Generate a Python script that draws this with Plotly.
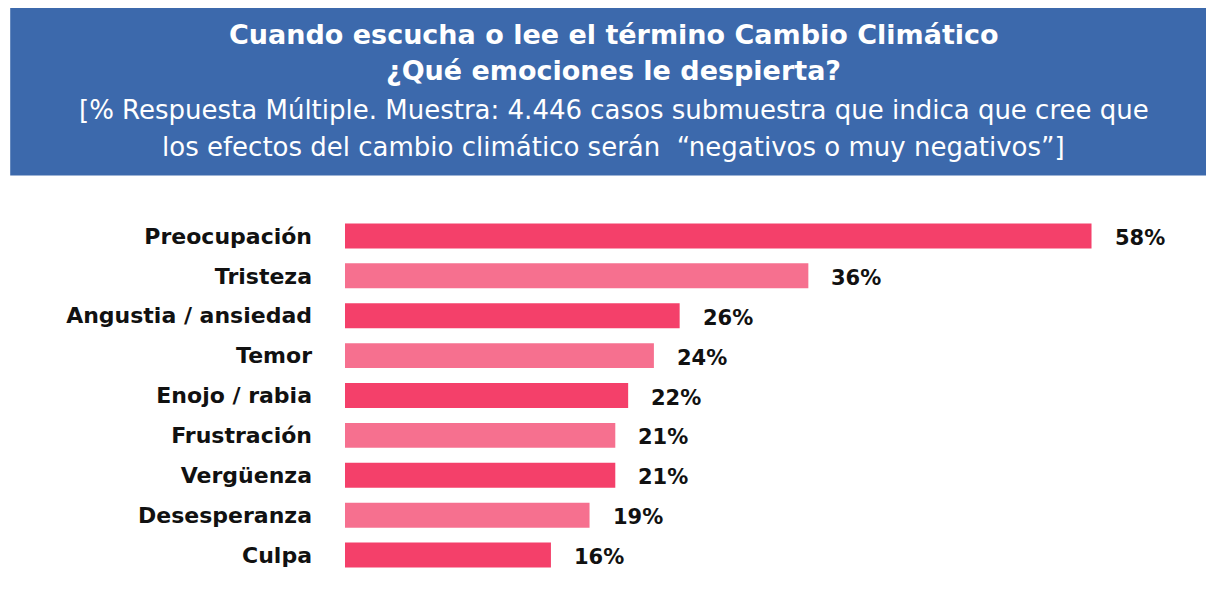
import plotly.graph_objects as go

categories = ["Preocupación", "Tristeza", "Angustia / ansiedad", "Temor", "Enojo / rabia",
              "Frustración", "Vergüenza", "Desesperanza", "Culpa"]
values = [58, 36, 26, 24, 22, 21, 21, 19, 16]
value_labels = ["58%", "36%", "26%", "24%", "22%", "21%", "21%", "19%", "16%"]
title_lines = ["Cuando escucha o lee el término Cambio Climático",
               "¿Qué emociones le despierta?"]
subtitle_lines = ["[% Respuesta Múltiple. Muestra: 4.446 casos submuestra que indica que cree que",
                  "los efectos del cambio climático serán  “negativos o muy negativos”]"]

DARK = "#F4406A"
LIGHT = "#F6708F"
BLUE = "#3C69AC"
FONT = "DejaVu Sans"

OFF = 8  # page body margin
W, H = 1214 - OFF, 604 - OFF
L, T = 345 - OFF, 215.5 - OFF
R = W - (1143.5 - OFF)
B = H - (575.5 - OFF)
PW, PH = W - L - R, H - T - B

def px(x):
    return (x - OFF - L) / PW

def py(y):
    return 1 - (y - OFF - T) / PH

colors = [DARK if i % 2 == 0 else LIGHT for i in range(len(categories))]

fig = go.Figure(go.Bar(
    x=values, y=categories, orientation="h",
    marker=dict(color=colors, line=dict(width=0)),
    width=0.625, hoverinfo="skip"))

annotations = []
for c, v, t in zip(categories, values, value_labels):
    annotations.append(dict(x=v, y=c, xref="x", yref="y", text=t, showarrow=False,
                            xanchor="left", yanchor="middle", xshift=21, yshift=-2,
                            font=dict(family=FONT, size=21, color="#111111", weight="bold")))

title_y = [33.5, 70]
for line, yy in zip(title_lines, title_y):
    annotations.append(dict(x=px(614), y=py(yy), xref="paper", yref="paper", text="<b>" + line + "</b>",
                            showarrow=False, xanchor="center", yanchor="middle",
                            font=dict(family=FONT, size=27, color="white")))
sub_y = [109.5, 146.5]
for line, yy in zip(subtitle_lines, sub_y):
    annotations.append(dict(x=px(614), y=py(yy), xref="paper", yref="paper", text=line,
                            showarrow=False, xanchor="center", yanchor="middle",
                            font=dict(family=FONT, size=26, color="white")))

fig.update_layout(
    width=W, height=H,
    margin=dict(l=L, r=R, t=T, b=B, pad=0),
    paper_bgcolor="white", plot_bgcolor="white",
    showlegend=False,
    xaxis=dict(range=[0, 62], visible=False, fixedrange=True),
    yaxis=dict(autorange="reversed", showgrid=False, showline=False, zeroline=False,
               ticks="", ticklabelstandoff=32,
               tickfont=dict(family=FONT, size=22, color="#111111", weight="bold")),
    bargap=0.375,
    annotations=annotations,
    shapes=[dict(type="rect", xref="paper", yref="paper", x0=px(10), x1=px(1230),
                 y0=py(175), y1=py(5), fillcolor=BLUE, line=dict(width=0), layer="below")],
)

fig.write_html("out.html")
